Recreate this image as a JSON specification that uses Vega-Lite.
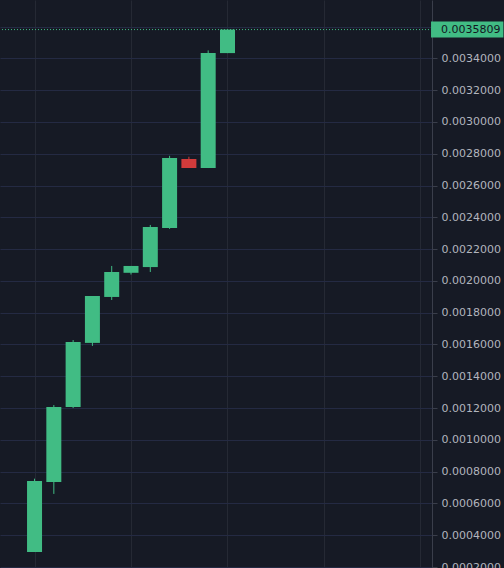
{
  "$schema": "https://vega.github.io/schema/vega-lite/v6.json",
  "width": 432,
  "height": 568,
  "autosize": {"type": "none"},
  "padding": {"left": 0, "top": 0, "right": 72, "bottom": 0},
  "background": "#161a25",
  "config": {
    "view": {"stroke": null},
    "axisX": {"labels": false, "ticks": false, "domain": false, "grid": true, "gridColor": "#252934", "gridWidth": 1},
    "axisY": {"grid": true, "gridColor": "#242a43", "gridWidth": 1, "domainColor": "#3a3e4b", "tickColor": "#3a3e4b", "tickSize": 5, "labelColor": "#b2b5be", "labelFont": "DejaVu Sans", "labelFontSize": 11, "labelPadding": 4, "labelOverlap": false, "labelBound": false}
  },
  "datasets": {
    "candles": [
      {"i": 1, "open": 0.000295, "high": 0.000756, "low": 0.000295, "close": 0.000742},
      {"i": 2, "open": 0.000735, "high": 0.001219, "low": 0.00066, "close": 0.001207},
      {"i": 3, "open": 0.001207, "high": 0.001628, "low": 0.0012, "close": 0.001616},
      {"i": 4, "open": 0.00161, "high": 0.001905, "low": 0.001591, "close": 0.001905},
      {"i": 5, "open": 0.001899, "high": 0.002094, "low": 0.00188, "close": 0.002056},
      {"i": 6, "open": 0.002051, "high": 0.002094, "low": 0.00204, "close": 0.002094},
      {"i": 7, "open": 0.002087, "high": 0.002352, "low": 0.002056, "close": 0.002339},
      {"i": 8, "open": 0.002333, "high": 0.002787, "low": 0.002327, "close": 0.002773},
      {"i": 9, "open": 0.002767, "high": 0.002781, "low": 0.00271, "close": 0.00271},
      {"i": 10, "open": 0.00271, "high": 0.00345, "low": 0.00271, "close": 0.003433},
      {"i": 11, "open": 0.003433, "high": 0.0035809, "low": 0.003433, "close": 0.0035809}
    ],
    "last": [{"price": 0.0035809, "label": "0.0035809"}]
  },
  "layer": [
    {
      "data": {"name": "candles"},
      "mark": {"type": "rule", "strokeWidth": 1},
      "encoding": {
        "x": {"field": "i", "type": "quantitative", "scale": {"domain": [-0.79, 21.6], "nice": false, "zero": false, "padding": 0}, "axis": {"values": [1, 6, 11, 16, 21], "tickCount": 10, "title": null}},
        "y": {"field": "low", "type": "quantitative", "scale": {"domain": [0.000194, 0.003767], "nice": false, "zero": false, "padding": 0}, "axis": {"orient": "right", "values": [0.0002, 0.0004, 0.0006, 0.0008, 0.001, 0.0012, 0.0014, 0.0016, 0.0018, 0.002, 0.0022, 0.0024, 0.0026, 0.0028, 0.003, 0.0032, 0.0034, 0.0036], "tickCount": 30, "format": ".7f", "labelExpr": "datum.value > 0.00359 ? '' : format(datum.value, '.7f')", "title": null, "labelOverlap": false, "labelFlush": false}},
        "y2": {"field": "high"},
        "color": {"condition": {"test": "datum.close < datum.open", "value": "#d13b3b"}, "value": "#41bc84"}
      }
    },
    {
      "data": {"name": "candles"},
      "mark": {"type": "bar", "width": 15},
      "encoding": {
        "x": {"field": "i", "type": "quantitative"},
        "y": {"field": "open", "type": "quantitative"},
        "y2": {"field": "close"},
        "color": {"condition": {"test": "datum.close < datum.open", "value": "#d13b3b"}, "value": "#41bc84"}
      }
    },
    {
      "data": {"name": "last"},
      "mark": {"type": "rule", "strokeWidth": 1, "strokeDash": [1, 2], "color": "#41bc84"},
      "encoding": {
        "y": {"field": "price", "type": "quantitative"}
      }
    },
    {
      "data": {"name": "last"},
      "mark": {"type": "rule", "strokeWidth": 16, "strokeCap": "butt", "color": "#41bc84"},
      "encoding": {
        "x": {"datum": 21.55, "type": "quantitative"},
        "x2": {"datum": 25.3},
        "y": {"field": "price", "type": "quantitative"}
      }
    },
    {
      "data": {"name": "last"},
      "mark": {"type": "text", "align": "left", "baseline": "middle", "font": "DejaVu Sans", "fontSize": 11, "color": "#131722"},
      "encoding": {
        "x": {"datum": 22.07, "type": "quantitative"},
        "y": {"field": "price", "type": "quantitative"},
        "text": {"field": "label"}
      }
    }
  ]
}
